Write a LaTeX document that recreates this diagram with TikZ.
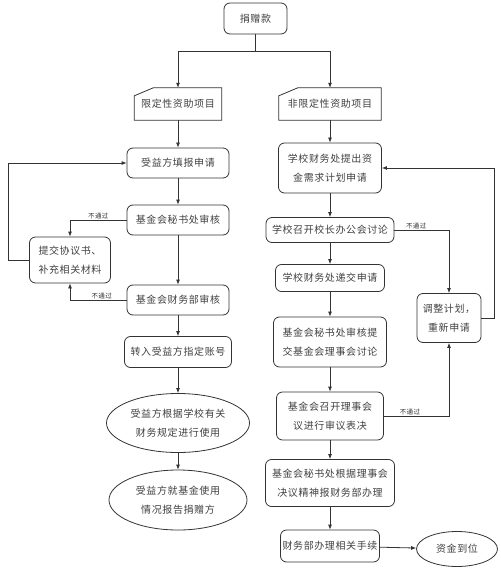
\documentclass[tikz,border=0pt]{standalone}
\usepackage{fontspec}
\setmainfont[LetterSpace=6]{Noto Sans CJK SC}
\usetikzlibrary {arrows.meta}
\usetikzlibrary {shapes.geometric}
\tikzset{
    box/.style={draw=black!80,line width=0.8pt,rounded corners=6pt,inner sep=0pt,align=center,
        font=\fontsize{10}{19}\selectfont,text=black!75},
    oval/.style={box,ellipse,rounded corners=0pt},
    inbox/.style={inner sep=0pt,align=center,font=\fontsize{10}{19}\selectfont,text=black!75},
    line/.style={draw=black!80,line width=0.8pt},
    arr/.style={line,-{Latex[length=5pt,width=4pt]}},
    nopass/.style={above,inner sep=1pt,font=\fontsize{6.5}{7}\selectfont,text=black!80}
}
\newcommand{\myBox}[6]{%
    \node[box,minimum width=#3pt,minimum height=#4pt] (#5) at (#1,#2) {#6};
}
\newcommand{\myOval}[6]{%
    \node[oval,minimum width=#3pt,minimum height=#4pt] (#5) at (#1,#2) {#6};
}
\newcommand{\myInput}[1]{%
    \draw[line] (#1.south west) -- (#1.south east) -- (#1.north east)
        -- ([xshift=19pt]#1.north west) -- ([yshift=-8pt]#1.north west) -- cycle;
}

\begin{document}
\begin{tikzpicture}[x=1pt,y=-1pt]
    \useasboundingbox (0,0) rectangle (500,569);
    %top
    \myBox{255.5}{18.5}{63}{31}{donate}{捐赠款}
    \node[inbox,minimum width=87pt,minimum height=32pt] (lim) at (178,104) {\raisebox{-3pt}{限定性资助项目}};
    \node[inbox,minimum width=102pt,minimum height=32pt] (nonlim) at (330,104) {\raisebox{-3pt}{非限定性资助项目}};
    \myInput{lim}
    \myInput{nonlim}
    %v1
    \myBox{178}{163}{102}{30}{apply}{受益方填报申请}
    \myBox{178}{220}{102}{30}{secA}{基金会秘书处审核}
    \myBox{178}{300}{102}{30}{finA}{基金会财务部审核}
    \myBox{70}{260}{81}{46}{supp}{提交协议书、\\补充相关材料}
    \myBox{178}{352}{107}{31}{acct}{转入受益方指定账号}
    \myOval{178}{423}{143}{59}{use}{受益方根据学校有关\\财务规定进行使用}
    \myOval{178}{500}{138}{60}{report}{受益方就基金使用\\情况报告捐赠方}
    %v2
    \myBox{330}{168}{103}{50}{plan}{学校财务处提出资\\金需求计划申请}
    \myBox{330}{230}{128}{25}{meet}{学校召开校长办公会讨论}
    \myBox{330}{278}{109}{27}{submit}{学校财务处递交申请}
    \myBox{330}{342}{113}{50}{review}{基金会秘书处审核提\\交基金会理事会讨论}
    \myBox{330}{416}{107}{48}{vote}{基金会召开理事会\\议进行审议表决}
    \myBox{330}{483}{129}{47}{exec}{基金会秘书处根据理事会\\决议精神报财务部办理}
    \myBox{330}{546}{99}{32}{handle}{财务部办理相关手续}
    \myOval{457}{549}{81}{35}{arrive}{资金到位}
    \myBox{449}{318}{64}{49}{adjust}{调整计划，\\重新申请}
    %E0
    \draw[arr] (donate.south) -- ++(0,17) -| (lim.north);
    \draw[arr] (donate.south) -- ++(0,17) -| (nonlim.north);
    %E1
    \draw[arr] (lim) -- (apply);
    \draw[arr] (apply) -- (secA);
    \draw[arr] (secA) -- (finA);
    \draw[arr] (finA) -- (acct);
    \draw[arr] (acct) -- (use);
    \draw[arr] (use) -- (report);
    \draw[arr] (secA.west) -| node[nopass,pos=0.25] {不通过} (supp.north);
    \draw[arr] (finA.west) -| node[nopass,pos=0.22] {不通过} (supp.south);
    \draw[arr] (supp.west) -- ++(-21,0) |- (apply.west);
    %E2
    \draw[arr] (nonlim) -- (plan);
    \draw[arr] (plan) -- (meet);
    \draw[arr] (meet) -- (submit);
    \draw[arr] (submit) -- (review);
    \draw[arr] (review) -- (vote);
    \draw[arr] (vote) -- (exec);
    \draw[arr] (exec) -- (handle);
    \draw[arr] (handle) -- (arrive);
    \draw[arr] (meet.east) -| node[nopass,pos=0.2] {不通过} (adjust.north);
    \draw[arr] (vote.east) -| node[nopass,pos=0.2] {不通过} (adjust.south);
    \draw[arr] (adjust.east) -- ++(13,0) |- (plan.east);
\end{tikzpicture}
\end{document}
